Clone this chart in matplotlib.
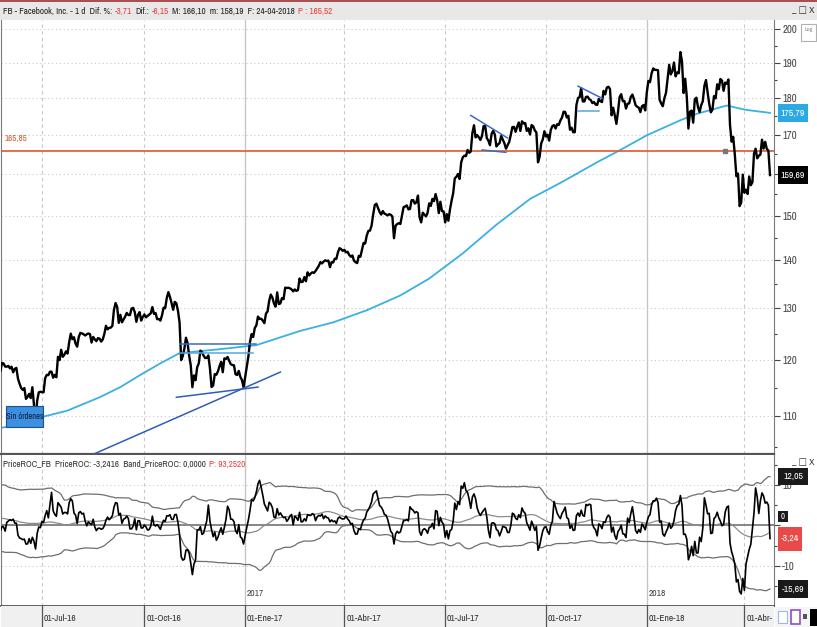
import matplotlib
matplotlib.use("Agg")
import matplotlib.pyplot as plt
from matplotlib import font_manager
from matplotlib.patches import Rectangle
from matplotlib.ticker import FixedLocator, NullFormatter, FixedFormatter
import numpy as np
import pandas as pd

W, H = 817, 627

# NYSE holidays inside the data range
holidays = [
    "2016-03-25", "2016-05-30", "2016-07-04", "2016-09-05", "2016-11-24", "2016-12-26",
    "2017-01-02", "2017-01-16", "2017-02-20", "2017-04-14", "2017-05-29", "2017-07-04",
    "2017-09-04", "2017-11-23", "2017-12-25", "2018-01-01", "2018-01-15", "2018-02-19",
    "2018-03-30",
]

# FB daily closes, Mar-2016 .. Apr-2018 (Mar-May 2016 only feed the ROC / bands warm-up)
close_2016 = [
    109.82, 109.95, 109.58, 108.39, 105.73, 105.93, 107.51, 107.32, 109.41, 109.89, 110.67,
    111.02, 111.45, 111.02, 112.86, 113.11, 112.36, 112.22, 113.05, 113.69, 116.14, 114.10,
    116.06, 112.55, 111.12, 113.71, 110.63, 110.67, 110.51, 110.61, 110.51, 110.87, 109.64,
    110.13, 109.42, 110.20, 110.87, 110.53, 110.10, 108.89, 108.89, 116.73, 117.58,
    118.57, 117.43, 118.06, 119.04, 119.81, 119.67, 120.50, 119.52, 119.81, 119.81, 120.50,
    117.89, 117.65, 116.81, 117.35, 115.97, 117.70, 117.89, 119.47, 119.38, 118.81,
    118.78, 118.93, 118.47, 118.79, 117.76, 118.39, 118.56, 116.62, 115.70, 114.94, 114.60,
    114.92, 113.02, 113.37, 113.91, 113.16, 115.08, 112.08, 108.97, 112.70, 114.16, 114.28,
    114.19, 114.19, 116.70, 117.29, 117.24, 117.87, 117.87, 116.78, 117.29, 116.86, 120.61,
    120.00, 121.92, 120.61, 121.00, 121.63, 121.22, 123.34, 125.00, 123.94,
    124.31, 123.09, 122.51, 124.36, 125.15, 125.06, 124.88, 124.65, 124.88, 125.03, 124.91,
    123.30, 124.37, 123.91, 123.56, 124.15, 124.04, 123.48, 123.89, 124.96, 126.54, 125.84,
    126.12,
    126.17, 126.51, 129.73, 131.05, 130.27, 127.10, 128.69, 127.21, 127.77, 128.35, 129.07,
    128.65, 128.64, 129.94, 130.08, 129.22, 127.31, 128.69, 129.23, 127.55, 128.27,
    128.77, 128.19, 128.47, 128.74, 128.99, 130.24, 128.88, 129.05, 127.82, 127.88, 127.54,
    128.57, 130.11, 130.00, 132.07, 133.28, 132.29, 131.04, 129.69, 131.29, 130.99,
    129.50, 127.17, 120.00, 120.75, 122.15, 124.22, 123.18, 120.80, 119.02, 115.08, 117.20,
    116.34, 118.69, 119.39, 121.77, 121.47, 120.84, 120.38, 120.41, 120.87, 118.42,
    115.10, 115.40, 117.43, 117.31, 117.95, 118.91, 119.68, 117.77, 120.31, 120.21, 120.57,
    119.87, 119.24, 119.09, 119.04, 117.40, 117.27, 118.01, 116.92, 116.35, 115.05,
]
close_2017 = [
    116.86, 118.69, 120.67, 123.41, 124.90, 124.35, 126.09, 126.62, 128.34, 127.87, 127.92,
    127.55, 127.04, 128.93, 129.37, 131.48, 132.78, 132.18, 130.98, 130.32,
    133.23, 130.84, 130.98, 132.06, 131.84, 134.20, 134.14, 134.19, 134.05, 133.85, 133.44,
    133.84, 133.53, 133.72, 136.12, 135.36, 135.44, 136.41, 135.54,
    137.42, 136.76, 137.17, 137.42, 137.30, 137.72, 138.24, 138.79, 139.60, 139.32, 139.72,
    139.99, 139.84, 139.94, 138.51, 139.59, 139.53, 140.34, 140.32, 141.76, 142.65, 142.41,
    142.05,
    142.28, 141.73, 141.85, 141.17, 140.78, 141.04, 139.92, 139.58, 139.39, 140.96, 140.77,
    142.27, 143.80, 143.68, 145.47, 146.49, 146.56, 147.70, 150.25,
    152.46, 152.78, 151.80, 150.85, 150.24, 151.06, 150.48, 150.29, 150.04, 150.33, 150.19,
    149.78, 144.85, 147.66, 148.06, 148.24, 148.07, 150.04, 151.96, 152.13, 152.38, 151.46,
    151.53, 153.61, 153.63, 152.81, 153.12, 154.71, 149.60, 148.44, 150.68, 150.25, 149.80,
    150.64, 152.87, 152.25, 153.91, 153.40, 155.07, 153.59, 150.58, 153.24, 151.04, 150.98,
    148.43, 150.34, 148.82, 151.44, 153.50, 155.27, 158.90, 159.26, 159.97, 158.73, 162.86,
    164.14, 164.53, 164.43, 166.00, 165.28, 165.61, 170.44, 172.45, 169.25,
    169.86, 169.30, 168.59, 169.62, 172.23, 172.26, 169.08, 168.41, 167.24, 170.18, 171.00,
    170.00, 166.91, 167.41, 167.78, 169.64, 168.71, 167.74, 166.32, 167.24, 168.05, 169.92,
    171.97,
    172.02, 170.72, 172.09, 173.21, 170.95, 173.51, 172.96, 173.05, 170.96, 171.64, 170.01,
    172.52, 172.17, 171.11, 170.54, 162.87, 164.21, 167.68, 168.73, 170.87,
    169.47, 169.96, 168.42, 171.24, 172.23, 172.50, 171.59, 172.74, 172.55, 173.74, 174.52,
    176.11, 176.03, 174.56, 174.98, 171.27, 171.80, 170.60, 170.63, 177.88, 179.87, 180.06,
    182.66, 178.92, 178.92, 180.17, 180.25, 179.56, 179.30, 178.46, 178.77, 178.07, 177.95,
    179.59, 179.00, 178.74, 181.86, 180.87, 182.78, 183.03, 182.42, 175.13, 177.18,
    175.10, 172.83, 176.06, 180.14, 180.94, 179.00, 179.04, 176.96, 178.30, 178.39, 180.18,
    180.82, 179.51, 177.89, 177.45, 177.20, 175.99, 177.62, 177.92, 176.46,
]
close_2018 = [
    181.42, 184.67, 184.33, 186.85, 188.28, 187.87, 187.84, 187.77, 179.37, 178.39, 177.60,
    179.80, 181.29, 185.37, 189.35, 186.55, 187.48, 190.00, 185.98, 187.12, 186.89,
    193.09, 190.28, 181.26, 185.31, 180.18, 171.58, 176.11, 176.41, 173.15, 179.52, 179.96,
    177.36, 176.01, 177.91, 178.99, 183.29, 184.93, 181.46, 178.32,
    175.94, 176.62, 180.40, 179.78, 183.71, 182.34, 185.23, 184.76, 181.88, 184.19, 183.86,
    185.09, 172.56, 168.15, 169.39, 164.89, 159.39, 160.06, 152.22, 153.03, 159.79,
    155.39, 156.11, 155.10, 159.34, 157.20, 157.93, 165.04, 166.32, 163.87, 164.52, 164.83,
    168.66, 166.36, 168.10, 166.28, 165.84, 159.69,
]

# 200-session average
ma_dates = [
    "2016-05-26", "2016-05-31", "2016-07-01", "2016-07-26", "2016-08-23", "2016-09-12",
    "2016-09-28", "2016-10-17", "2016-11-02", "2016-12-07", "2017-01-12", "2017-02-22",
    "2017-03-23", "2017-04-24", "2017-05-23", "2017-06-19", "2017-07-19", "2017-08-17",
    "2017-09-18", "2017-10-17", "2017-11-15", "2017-12-06", "2018-01-02", "2018-02-01",
    "2018-02-15", "2018-03-15", "2018-04-03", "2018-04-24",
]
ma_values = [
    108.1, 108.2, 109.9, 111.0, 113.3, 115.1, 117.2, 119.4, 121.3, 122.0, 122.8, 125.5,
    127.2, 129.6, 132.6, 136.1, 141.5, 147.9, 153.9, 158.2, 162.9, 165.9, 169.8, 173.8,
    175.5, 177.8, 176.6, 175.79,
]

# hand-drawn trend lines: start date, start price, end date, end price, colour
trend_lines = [
    ("2016-08-11", 103.3, "2017-02-03", 117.8, "#2F5DB8"),
    ("2016-10-31", 113.3, "2017-01-13", 115.1, "#2F5DB8"),
    ("2016-11-02", 123.0, "2017-01-12", 123.0, "#3A6CC4"),
    ("2016-11-02", 121.3, "2017-01-10", 121.3, "#56A6DE"),
    ("2017-07-26", 175.1, "2017-08-28", 169.1, "#3A6CC4"),
    ("2017-08-04", 166.0, "2017-08-25", 165.4, "#3A6CC4"),
    ("2017-10-30", 183.2, "2017-11-20", 179.8, "#3A6CC4"),
    ("2017-10-30", 176.3, "2017-11-16", 176.3, "#56A6DE"),
]

level_line = 165.85
level_anchor = "2018-03-14"
last_close = 159.69
ma_last = 175.79
band_upper_last = 12.05
band_zero = 0.0
roc_last = -3.24
band_lower_last = -15.69

view_start = "2016-05-26"
quarter_starts = ["2016-07-01", "2016-10-01", "2017-01-01", "2017-04-01",
                  "2017-07-01", "2017-10-01", "2018-01-01", "2018-04-01"]
quarter_labels = ["01-Jul-16", "01-Oct-16", "01-Ene-17", "01-Abr-17",
                  "01-Jul-17", "01-Oct-17", "01-Ene-18", "01-Abr-"]
year_starts = ["2017-01-01", "2018-01-01"]
year_labels = ["2017", "2018"]
price_ticks = [110, 120, 130, 140, 150, 160, 170, 180, 190, 200]
price_minor = [105, 115, 125, 135, 145, 155, 165, 175, 185, 195]
roc_ticks = [10, 0, -10, -20]
roc_minor = [15, 5, -5, -15]

roc_period = 10
band_period = 50

# ---------------------------------------------------------------- fonts
stretch_num = {"ultra-condensed": 100, "extra-condensed": 200, "condensed": 300,
               "semi-condensed": 400, "normal": 500}
best = None
for f in font_manager.fontManager.ttflist:
    st = f.stretch if isinstance(f.stretch, (int, float)) else stretch_num.get(f.stretch, 500)
    wt = f.weight if isinstance(f.weight, (int, float)) else font_manager.weight_dict.get(f.weight, 400)
    if f.style != "normal" or wt != 400 or st >= 500:
        continue
    if any(k in f.name for k in ("Mono", "Serif", "CJK", "Display")):
        continue
    score = abs(st - 300) - (50 if "Narrow" in f.name else 0)
    if best is None or score < best[0]:
        best = (score, f.name, f.stretch)
if best:
    FONT, STRETCH = best[1], best[2]
else:
    FONT, STRETCH = "Liberation Sans", "normal"
plt.rcParams["font.family"] = [FONT, "DejaVu Sans"]
plt.rcParams["font.stretch"] = STRETCH

# ---------------------------------------------------------------- data prep
days = pd.bdate_range("2016-03-01", "2018-04-24")
days = days[~days.isin(pd.to_datetime(holidays))]
closes = pd.Series(close_2016 + close_2017 + close_2018)
assert len(closes) == len(days), (len(closes), len(days))
x = np.arange(len(days))


def idx(d):
    return int(days.searchsorted(pd.Timestamp(d)))


roc = (closes / closes.shift(roc_period) - 1) * 100
band_mid = roc.rolling(band_period).mean()
band_sd = roc.rolling(band_period).std(ddof=0)
band_up = band_mid + 2 * band_sd
band_lo = band_mid - 2 * band_sd

i0 = idx(view_start)
xlim = (i0 - 0.6, i0 + 482.5)

fig = plt.figure(figsize=(W / 100, H / 100), dpi=100)
fig.patch.set_facecolor("white")
renderer = fig.canvas.get_renderer()


def fit(sample, target, floor, cap):
    t = fig.text(0, 0, sample, fontsize=10)
    w = t.get_window_extent(renderer).width
    t.remove()
    return max(floor, min(cap, 10 * target / w))


FS_TITLE = fit("FB - Facebook, Inc. - 1 d  Dif. %:", 92, 6.6, 7.5)
FS_SUB = fit("PriceROC_FB  PriceROC: -3,2416  Band_PriceROC: 0,0000", 166, 6.6, 7.5)
FS_DATE = fit("01-Jul-16", 28, 6.8, 7.5)
FS_TICK = fit("200", 11, 7.8, 8.5)
FS_BOX = fit("175,79", 22, 7.0, 8.5)
FS_SIN = fit("Sin órdenes", 33, 6.0, 7)
FS_LVL = fit("165,85", 20, 6.5, 7.5)
FS_YEAR = fit("2017", 13, 6.8, 7.5)


def px_axes(x0, y0, x1, y1):
    return fig.add_axes([x0 / W, 1 - y1 / H, (x1 - x0) / W, (y1 - y0) / H])


def px_rect(x0, y0, x1, y1, **kw):
    fig.add_artist(Rectangle((x0 / W, 1 - y1 / H), (x1 - x0) / W, (y1 - y0) / H,
                             transform=fig.transFigure, **kw))


def px_text(xp, yp, s, **kw):
    return fig.text(xp / W, 1 - yp / H, s, **kw)


def text_run(xp, yp, parts, size):
    for s, col in parts:
        t = px_text(xp, yp, s, color=col, fontsize=size, va="center", ha="left")
        xp += t.get_window_extent(renderer).width + 3


def value_box(axis, value, label, face, x0=778, x1=808, h=18):
    yp = H - axis.transData.transform((0, value))[1]
    px_rect(x0, yp - h / 2, x1, yp + h / 2, fc=face, ec="none", zorder=8)
    px_text((x0 + x1) / 2, yp, label, fontsize=FS_BOX, color="white",
            ha="center", va="center", zorder=9)


# title bar
px_rect(0, 0, W, 20, fc="#E8E8E8", ec="none", zorder=0)
px_rect(0, 0, W, 1.5, fc="#A85050", ec="none", zorder=1)
RED = "#E8403C"
text_run(3, 11, [("FB - Facebook, Inc. - 1 d  Dif. %:", "#222222"), ("-3,71", RED),
                 ("Dif.:", "#222222"), ("-6,15", RED),
                 ("M: 166,10  m: 158,19  F: 24-04-2018", "#222222"), ("P : 165,52", RED)],
         FS_TITLE)
px_text(814, 11, "_ \u25a1 X", fontsize=7, ha="right", va="center", color="#333333")

# ---------------------------------------------------------------- price panel
ax = px_axes(1, 20, 774, 454)
ax.set_yscale("log")
ax.set_xlim(*xlim)
ax.set_ylim(103.8, 202.9)

for q in quarter_starts:
    ax.axvline(idx(q), color="#C8C8C8", lw=0.8, ls=(0, (3, 3)), zorder=0)
for yv in year_starts:
    ax.axvline(idx(yv), color="#C4C4C4", lw=0.9, zorder=0)
for p in price_ticks:
    ax.axhline(p, color="#C8C8C8", lw=0.8, ls=(0, (1, 2.5)), zorder=0)

ma_x = [idx(d) for d in ma_dates]
ax.plot(ma_x, ma_values, color="#3BB0E2", lw=1.3, zorder=2)
ax.axhline(level_line, color="#E2572E", lw=1.2, zorder=2)
ax.plot(x, closes, color="black", lw=1.7, zorder=3)
for d0, p0, d1, p1, col in trend_lines:
    ax.plot([idx(d0), idx(d1)], [p0, p1], color=col, lw=1.1, zorder=4)
ax.plot(idx(level_anchor), level_line, marker="s", ms=3, color="#777777", zorder=5)
ax.text(i0 + 1.5, level_line * 1.012, "165,85", color="#E2572E", fontsize=FS_LVL, va="bottom")

ax.yaxis.tick_right()
ax.yaxis.set_major_locator(FixedLocator(price_ticks))
ax.yaxis.set_major_formatter(FixedFormatter(["" if p == 160 else str(p) for p in price_ticks]))
ax.yaxis.set_minor_locator(FixedLocator(price_minor))
ax.yaxis.set_minor_formatter(NullFormatter())
ax.tick_params(axis="y", which="major", direction="out", length=4, width=0.8,
               colors="#444444", labelsize=FS_TICK, pad=2)
ax.tick_params(axis="y", which="minor", direction="out", length=2.5, width=0.8, colors="#444444")
ax.set_xticks([])
for sp in ax.spines.values():
    sp.set_color("#7A7A7A")
ax.spines["top"].set_visible(False)
ax.spines["bottom"].set_color("#555555")
ax.spines["bottom"].set_linewidth(1.6)

value_box(ax, ma_last, "175,79", "#2AA9E4")
value_box(ax, last_close, "159,69", "black")

# chart widgets
px_rect(6, 406, 43, 427, fc="#3D8FE0", ec="#1E4F90", lw=0.8, zorder=8)
px_text(24.5, 416.5, "Sin órdenes", fontsize=FS_SIN, ha="center", va="center",
        color="#0C1E3A", zorder=9)
px_rect(801, 24, 816, 41, fc="white", ec="#B0B0B0", lw=0.8, zorder=8)
px_text(808.5, 30, "Log", fontsize=4.5, ha="center", va="center", color="#888888", zorder=9)

# ---------------------------------------------------------------- ROC panel
ar = px_axes(1, 455, 774, 606)
ar.set_xlim(*xlim)
ar.set_ylim(-19.9, 17.4)
for q in quarter_starts:
    ar.axvline(idx(q), color="#C8C8C8", lw=0.8, ls=(0, (3, 3)), zorder=0)
for yv in year_starts:
    ar.axvline(idx(yv), color="#C4C4C4", lw=0.9, zorder=0)
for r in (10, -10):
    ar.axhline(r, color="#C8C8C8", lw=0.8, ls=(0, (1, 2.5)), zorder=0)
ar.axhline(band_zero, color="#7D7D7D", lw=1.3, zorder=1)
ar.plot(x, band_up, color="#6E6E6E", lw=0.9, zorder=2)
ar.plot(x, band_mid, color="#8C8C8C", lw=0.9, zorder=2)
ar.plot(x, band_lo, color="#6E6E6E", lw=0.9, zorder=2)
ar.plot(x, roc, color="black", lw=1.2, zorder=3)
for yv, lab in zip(year_starts, year_labels):
    ar.text(idx(yv) + 1, -16.8, lab, fontsize=FS_YEAR, color="#444444", va="center")

ar.yaxis.tick_right()
ar.yaxis.set_major_locator(FixedLocator(roc_ticks))
ar.yaxis.set_major_formatter(FixedFormatter(["" if r == 0 else str(r) for r in roc_ticks]))
ar.yaxis.set_minor_locator(FixedLocator(roc_minor))
ar.tick_params(axis="y", which="major", direction="out", length=4, width=0.8,
               colors="#444444", labelsize=FS_TICK, pad=2)
ar.tick_params(axis="y", which="minor", direction="out", length=2.5, width=0.8, colors="#444444")
ar.set_xticks([])
for sp in ar.spines.values():
    sp.set_color("#7A7A7A")
ar.spines["top"].set_visible(False)
ar.spines["bottom"].set_color("#444444")
ar.spines["bottom"].set_linewidth(1.2)

value_box(ar, band_upper_last, "12,05", "#1A1A1A", h=17)
yz = H - ar.transData.transform((0, band_zero))[1]
px_rect(778, yz - 14, 788, yz - 3, fc="#1A1A1A", ec="none", zorder=8)
px_text(783, yz - 8.5, "0", fontsize=FS_BOX * 0.9, color="white", ha="center", va="center", zorder=9)
value_box(ar, roc_last, "-3,24", "#E84A4A", x0=778, x1=802, h=24)
value_box(ar, band_lower_last, "-15,69", "#1A1A1A", h=18)

text_run(3, 464, [("PriceROC_FB  PriceROC: -3,2416  Band_PriceROC: 0,0000", "#333333"),
                  ("P: 93,2520", RED)], FS_SUB)
px_text(814, 462, "_ \u25a1 X", fontsize=7, ha="right", va="center", color="#333333")

# ---------------------------------------------------------------- date strip
ad = px_axes(1, 606, 774, 627)
ad.set_xlim(*xlim)
ad.set_ylim(0, 1)
ad.set_facecolor("#F0F0F0")
for q, lab in zip(quarter_starts, quarter_labels):
    ad.axvline(idx(q), color="#555555", lw=0.9)
    ad.text(idx(q) + 1.2, 0.4, lab, fontsize=FS_DATE, color="#333333", va="center", ha="left",
            clip_on=True)
ad.set_xticks([])
ad.set_yticks([])
for sp in ad.spines.values():
    sp.set_visible(False)

# bottom-right tool icons
px_rect(775, 607, 817, 627, fc="#F5F5F5", ec="none", zorder=8)
px_rect(778, 611, 787, 623, fc="white", ec="#9DB8E8", lw=0.8, zorder=9)
px_rect(791, 610, 800, 624, fc="white", ec="#8A4FD0", lw=1.2, zorder=9)
px_rect(803, 614, 807, 619, fc="#555555", ec="none", zorder=9)
px_rect(810, 609, 817, 626, fc="black", ec="none", zorder=9)

fig.savefig("out.png", dpi=100)
